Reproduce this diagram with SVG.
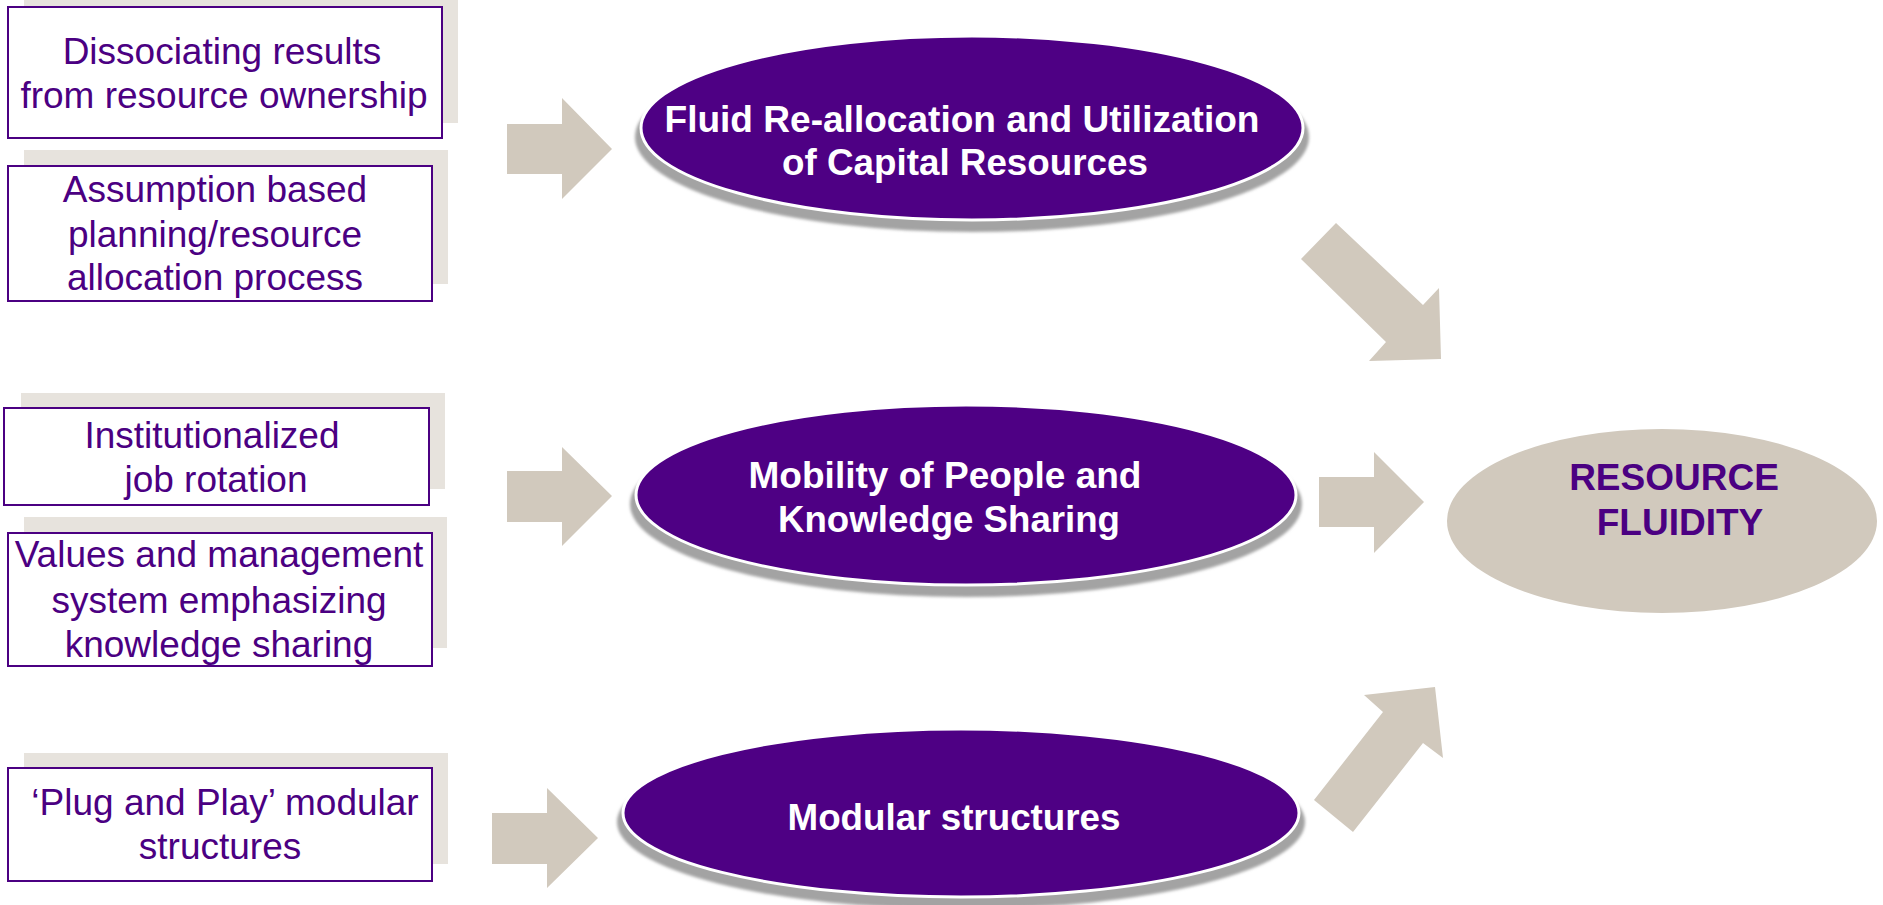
<svg xmlns="http://www.w3.org/2000/svg" width="1883" height="905" viewBox="0 0 1883 905">
<defs>
<style>
.back{fill:#E7E3DD}
.box{fill:#FFFFFF;stroke:#4B0082;stroke-width:2}
.bt{font-family:"Liberation Sans",Arial,sans-serif;font-size:37px;fill:#4B0082;text-anchor:middle}
.arrow{fill:#D1C9BD}
.shadow{fill:#A3A3A3;filter:url(#blur)}
.oval{fill:#4E0084;stroke:#FFFFFF;stroke-width:3}
.et{font-family:"Liberation Sans Narrow","Liberation Sans",Arial,sans-serif;font-weight:bold;font-size:37px;fill:#FFFFFF;text-anchor:middle}
.rf{fill:#D1C9BD}
.rt{font-family:"Liberation Sans",Arial,sans-serif;font-weight:bold;font-size:37px;fill:#4B0082;text-anchor:middle}
</style>
<filter id="blur" x="-5%" y="-5%" width="110%" height="110%"><feGaussianBlur stdDeviation="1.5"/></filter>
</defs>
<rect width="1883" height="905" fill="#FFFFFF"/>

<g id="box-dissociating">
<rect class="back" x="24" y="0" width="434" height="123"/>
<rect class="box" x="8" y="7" width="434" height="131"/>
<text class="bt" x="222" y="64">Dissociating results</text>
<text class="bt" x="224" y="108">from resource ownership</text>
</g>
<g id="box-assumption">
<rect class="back" x="24" y="150" width="424" height="134"/>
<rect class="box" x="8" y="166" width="424" height="135"/>
<text class="bt" x="215" y="202">Assumption based</text>
<text class="bt" x="215" y="247">planning/resource</text>
<text class="bt" x="215" y="290">allocation process</text>
</g>
<g id="box-rotation">
<rect class="back" x="21" y="393" width="424" height="96"/>
<rect class="box" x="4" y="408" width="425" height="97"/>
<text class="bt" x="212" y="448">Institutionalized</text>
<text class="bt" x="216" y="492">job rotation</text>
</g>
<g id="box-values">
<rect class="back" x="24" y="517" width="423" height="131"/>
<rect class="box" x="8" y="533" width="424" height="133"/>
<text class="bt" x="219" y="567">Values and management</text>
<text class="bt" x="219" y="613">system emphasizing</text>
<text class="bt" x="219" y="657">knowledge sharing</text>
</g>
<g id="box-plug">
<rect class="back" x="24" y="753" width="424" height="111"/>
<rect class="box" x="8" y="768" width="424" height="113"/>
<text class="bt" x="225" y="815">‘Plug and Play’ modular</text>
<text class="bt" x="220" y="859">structures</text>
</g>

<g id="connectors">
<polygon class="arrow" points="507,124 562,124 562,98 612,149 562,199 562,174 507,174"/>
<polygon class="arrow" points="507,471 562,471 562,447 612,496 562,546 562,522 507,522"/>
<polygon class="arrow" points="492,813 547,813 547,788 598,838 547,888 547,864 492,864"/>
<polygon class="arrow" points="1319,477 1374,477 1374,452 1424,502 1374,553 1374,527 1319,527"/>
<polygon class="arrow" points="1336,223 1423,305 1439,288 1441,359 1369,361 1386,342 1301,259"/>
<polygon class="arrow" points="1314,800 1353,832 1423,743 1443,758 1435,687 1364,695 1383,712"/>
</g>

<g id="oval-capital">
<ellipse class="shadow" cx="972" cy="137" rx="337" ry="95"/>
<ellipse class="oval" cx="972" cy="128" rx="331" ry="92"/>
<text class="et" x="962" y="132" textLength="595" lengthAdjust="spacingAndGlyphs">Fluid Re-allocation and Utilization</text>
<text class="et" x="965" y="175" textLength="366" lengthAdjust="spacingAndGlyphs">of Capital Resources</text>
</g>
<g id="oval-mobility">
<ellipse class="shadow" cx="966" cy="504" rx="336" ry="93"/>
<ellipse class="oval" cx="966" cy="495" rx="330" ry="90"/>
<text class="et" x="945" y="488" textLength="393" lengthAdjust="spacingAndGlyphs">Mobility of People and</text>
<text class="et" x="949" y="532" textLength="342" lengthAdjust="spacingAndGlyphs">Knowledge Sharing</text>
</g>
<g id="oval-modular">
<ellipse class="shadow" cx="961" cy="822" rx="344" ry="87"/>
<ellipse class="oval" cx="961" cy="813" rx="338" ry="84"/>
<text class="et" x="954" y="830" textLength="333" lengthAdjust="spacingAndGlyphs">Modular structures</text>
</g>
<g id="resource-fluidity">
<ellipse class="rf" cx="1662" cy="521" rx="215" ry="92"/>
<text class="rt" x="1674" y="490">RESOURCE</text>
<text class="rt" x="1680" y="535">FLUIDITY</text>
</g>
</svg>
